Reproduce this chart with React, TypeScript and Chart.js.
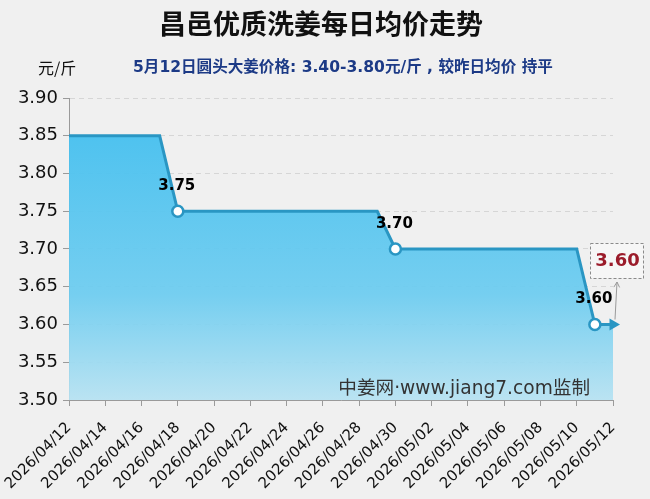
import React, { useEffect, useRef } from "react";
import { Chart, registerables } from "chart.js";

Chart.register(...registerables);

const dates: string[] = [
  "2026/04/12", "2026/04/13", "2026/04/14", "2026/04/15", "2026/04/16", "2026/04/17",
  "2026/04/18", "2026/04/19", "2026/04/20", "2026/04/21", "2026/04/22", "2026/04/23",
  "2026/04/24", "2026/04/25", "2026/04/26", "2026/04/27", "2026/04/28", "2026/04/29",
  "2026/04/30", "2026/05/01", "2026/05/02", "2026/05/03", "2026/05/04", "2026/05/05",
  "2026/05/06", "2026/05/07", "2026/05/08", "2026/05/09", "2026/05/10", "2026/05/11",
  "2026/05/12",
];

const prices: number[] = [
  3.85, 3.85, 3.85, 3.85, 3.85, 3.85,
  3.75, 3.75, 3.75, 3.75, 3.75, 3.75,
  3.75, 3.75, 3.75, 3.75, 3.75, 3.75,
  3.70, 3.70, 3.70, 3.70, 3.70, 3.70,
  3.70, 3.70, 3.70, 3.70, 3.70, 3.60,
  3.60,
];

// indices of price changes (marked with circles and labels)
const changeIdx: number[] = [6, 18, 29];

const yMin = 3.5;
const yMax = 3.9;
const yStep = 0.05;

const titleText = "昌邑优质洗姜每日均价走势";
const unitText = "元/斤";
const subtitleText = "5月12日圆头大姜价格: 3.40-3.80元/斤 , 较昨日均价 持平";
const watermarkText = "中姜网·www.jiang7.com监制";
const latestText = "3.60";

const LINE = "#2a96c3";
const CJK = "'Noto Sans CJK SC', 'Noto Sans', sans-serif";
const MIX = "'DejaVu Sans', 'Noto Sans CJK SC', sans-serif";
const NUM = "'DejaVu Sans', sans-serif";

function fitText(ctx: CanvasRenderingContext2D, text: string, weight: string, family: string, base: number, target: number) {
  ctx.font = `${weight} ${base}px ${family}`;
  const w = ctx.measureText(text).width;
  const size = Math.min(base * 1.3, Math.max(base * 0.8, (base * target) / w));
  ctx.font = `${weight} ${size.toFixed(2)}px ${family}`;
}

export default function App() {
  const ref = useRef<HTMLCanvasElement | null>(null);

  useEffect(() => {
    document.body.style.margin = "0";
    document.body.style.background = "#f0f0f0";
    const canvas = ref.current;
    if (!canvas) return;

    const last = prices.length - 1;

    const decor = {
      id: "decor",
      beforeDraw(chart: any) {
        const ctx = chart.ctx;
        ctx.save();
        ctx.fillStyle = "#f0f0f0";
        ctx.fillRect(0, 0, chart.width, chart.height);
        ctx.restore();
      },
      afterDraw(chart: any) {
        const ctx = chart.ctx;
        const xs = chart.scales.x;
        const ys = chart.scales.y;
        ctx.save();
        // title
        ctx.fillStyle = "#111";
        ctx.textAlign = "center";
        ctx.textBaseline = "middle";
        ctx.font = `bold 27px ${CJK}`;
        ctx.fillText(titleText, 321, 24);
        // unit
        ctx.font = `16px ${CJK}`;
        ctx.textAlign = "left";
        ctx.fillText(unitText, 38, 68);
        // subtitle
        ctx.fillStyle = "#1c3a86";
        fitText(ctx, subtitleText, "bold", MIX, 14, 420);
        ctx.fillText(subtitleText, 133, 68);
        // watermark
        ctx.fillStyle = "#333";
        fitText(ctx, watermarkText, "normal", MIX, 17, 252);
        ctx.textAlign = "right";
        ctx.fillText(watermarkText, 590, 389);
        // data labels
        ctx.fillStyle = "#000";
        ctx.textAlign = "center";
        ctx.font = `bold 15px ${NUM}`;
        changeIdx.forEach((i) => {
          const px = xs.getPixelForValue(i);
          const py = ys.getPixelForValue(prices[i]);
          ctx.fillText(prices[i].toFixed(2), px - 1, py - 25);
        });
        // latest annotation
        const lx = xs.getPixelForValue(last);
        const ly = ys.getPixelForValue(prices[last]);
        const bx = 590, by = 243, bw = 53, bh = 35;
        ctx.fillStyle = "#f6f6f6";
        ctx.fillRect(bx, by, bw, bh);
        ctx.setLineDash([3, 2]);
        ctx.strokeStyle = "#8a8a8a";
        ctx.lineWidth = 1;
        ctx.strokeRect(bx + 0.5, by + 0.5, bw, bh);
        ctx.setLineDash([]);
        ctx.fillStyle = "#9b1b2a";
        ctx.font = `bold 18px ${NUM}`;
        ctx.fillText(latestText, bx + bw / 2 + 1, by + bh / 2 + 1);
        // arrow line
        const ax0 = lx + 2, ay0 = ly - 5;
        const ax1 = 617, ay1 = by + bh + 4;
        ctx.strokeStyle = "#9a9a9a";
        ctx.lineWidth = 1;
        ctx.beginPath();
        ctx.moveTo(ax0, ay0);
        ctx.lineTo(ax1, ay1);
        ctx.stroke();
        const ang = Math.atan2(ay1 - ay0, ax1 - ax0);
        ctx.beginPath();
        ctx.moveTo(ax1 - 6 * Math.cos(ang - 0.5), ay1 - 6 * Math.sin(ang - 0.5));
        ctx.lineTo(ax1, ay1);
        ctx.lineTo(ax1 - 6 * Math.cos(ang + 0.5), ay1 - 6 * Math.sin(ang + 0.5));
        ctx.stroke();
        ctx.restore();
      },
    };

    const radii = prices.map((_, i) => (changeIdx.includes(i) ? 5.5 : i === last ? 7 : 0));
    const styles = prices.map((_, i) => (i === last ? "triangle" : "circle"));
    const rots = prices.map((_, i) => (i === last ? 90 : 0));
    const bgs = prices.map((_, i) => (i === last ? LINE : "#ffffff"));
    const bws = prices.map((_, i) => (i === last ? 0 : 2.5));

    const chart = new Chart(canvas, {
      type: "line",
      data: {
        datasets: [
          {
            data: prices.map((v, i) => ({ x: i, y: v })),
            borderColor: LINE,
            borderWidth: 3,
            tension: 0,
            fill: "start",
            clip: false,
            backgroundColor: (c: any) => {
              const area = c.chart.chartArea;
              if (!area) return "rgba(74,194,239,0.9)";
              const g = c.chart.ctx.createLinearGradient(0, area.top + 38, 0, area.bottom);
              g.addColorStop(0, "rgba(70,192,239,0.95)");
              g.addColorStop(0.6, "rgba(108,204,240,0.93)");
              g.addColorStop(1, "rgba(182,226,242,0.93)");
              return g;
            },
            pointRadius: radii,
            pointHoverRadius: radii,
            pointStyle: styles as any,
            pointRotation: rots,
            pointBackgroundColor: bgs,
            pointBorderColor: LINE,
            pointBorderWidth: bws,
          },
        ],
      },
      options: {
        animation: false,
        responsive: false,
        events: [],
        layout: { padding: { top: 98, right: 37, left: 0, bottom: 0 } },
        plugins: {
          legend: { display: false },
          tooltip: { enabled: false },
          title: { display: false },
        },
        scales: {
          x: {
            type: "linear",
            min: 0,
            max: prices.length - 1,
            afterFit: (s: any) => {
              s.height = 99;
              s.paddingLeft = 0;
              s.paddingRight = 0;
            },
            ticks: {
              stepSize: 2,
              autoSkip: false,
              maxRotation: 45,
              minRotation: 45,
              padding: 13,
              color: "#111",
              font: { family: NUM, size: 15 },
              callback: (v: any) => dates[v as number] ?? "",
            },
            grid: {
              drawOnChartArea: false,
              tickLength: 6,
              tickColor: "#9a9a9a",
            },
            border: { color: "#9a9a9a", width: 1 },
          },
          y: {
            min: yMin,
            max: yMax,
            afterFit: (s: any) => {
              s.width = 69;
              s.paddingTop = 0;
              s.paddingBottom = 0;
            },
            ticks: {
              stepSize: yStep,
              padding: 5,
              color: "#111",
              font: { family: NUM, size: 18 },
              callback: (v: any) => Number(v).toFixed(2),
            },
            grid: {
              color: "#d6d6d6",
              tickColor: "#9a9a9a",
              tickLength: 6,
              tickBorderDash: [],
            },
            border: { color: "#9a9a9a", width: 1, dash: [5, 4] },
          },
        },
      },
      plugins: [decor],
    } as any);

    return () => chart.destroy();
  }, []);

  return (
    <div style={{ width: 650, height: 499 }}>
      <canvas ref={ref} width={650} height={499} />
    </div>
  );
}
